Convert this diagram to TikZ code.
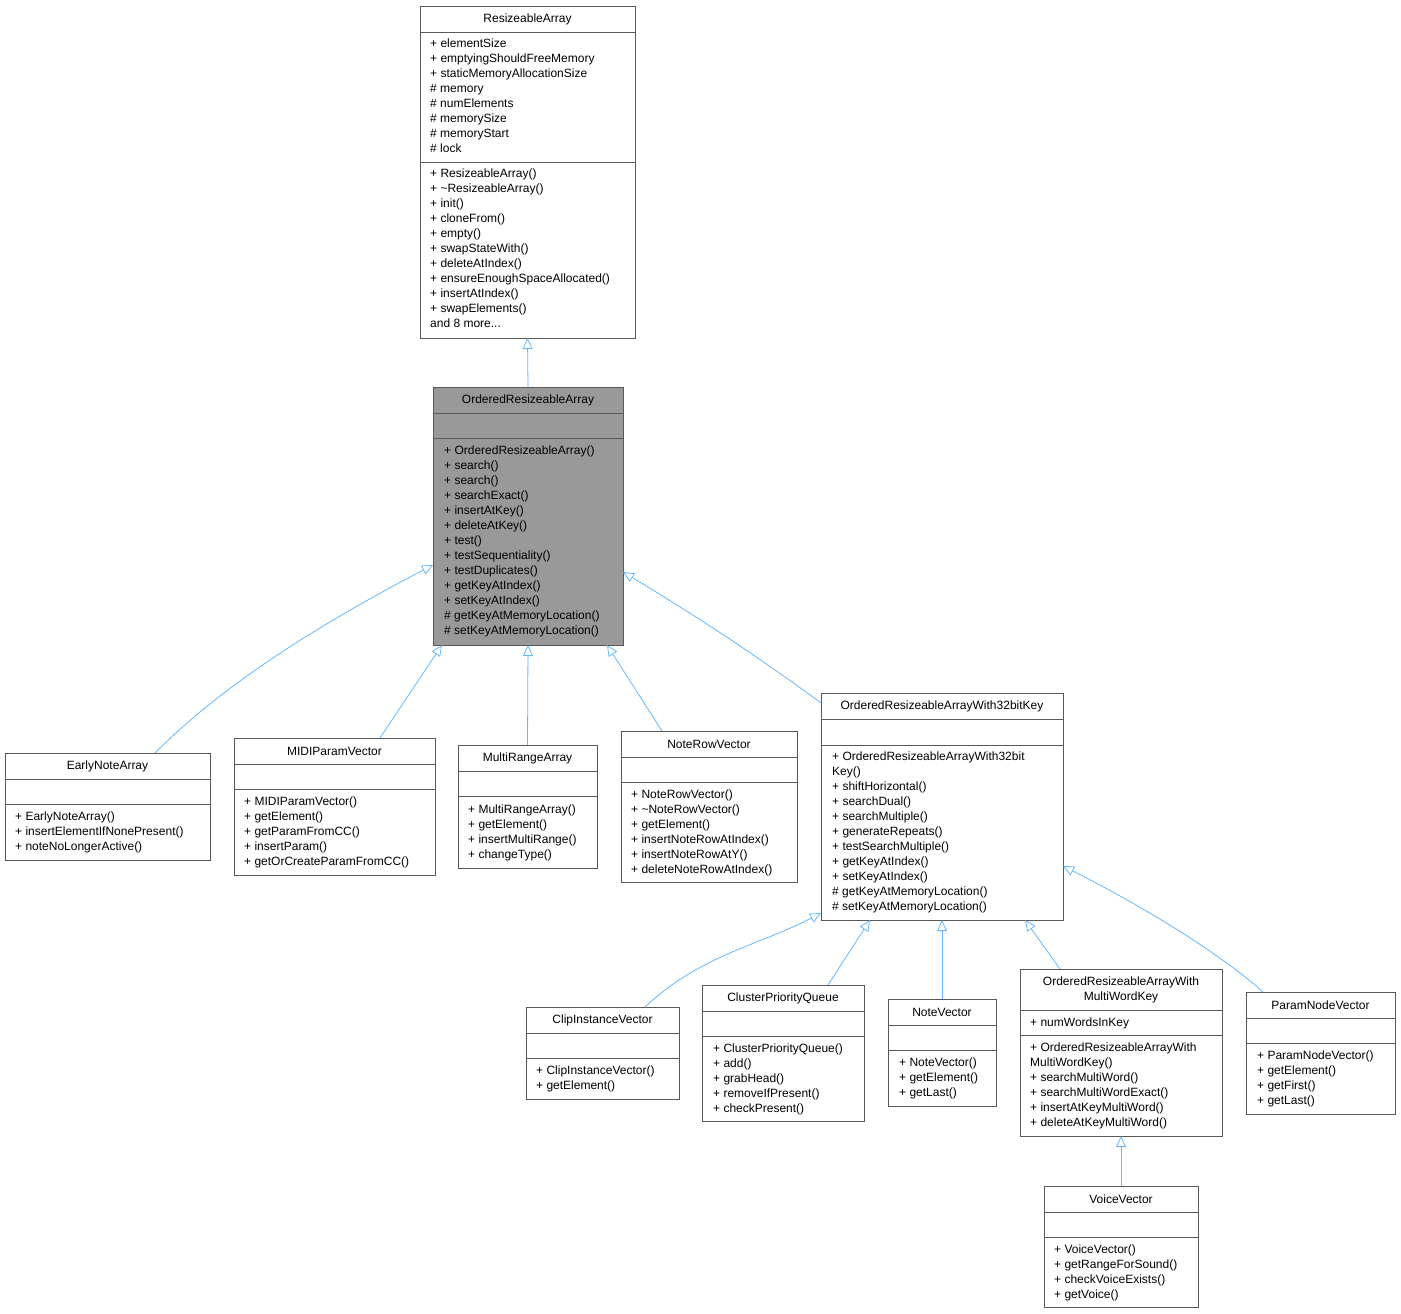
\documentclass[tikz,border=0pt]{standalone}
\usepackage{fontspec}
\setmainfont{Liberation Sans}
\usetikzlibrary{arrows.meta,calc}
\definecolor{edgeblue}{HTML}{63B8FF}
\definecolor{boxgray}{HTML}{999999}
\tikzset{
  box/.style={draw=black!65,line width=0.8pt,inner sep=0,outer sep=0},
  sepline/.style={draw=black!65,line width=0.8pt},
  txt/.style={anchor=north west,inner sep=0,align=left,font=\fontsize{12}{15}\selectfont},
  ttl/.style={inner sep=0,align=center,font=\fontsize{12}{15}\selectfont},
  inh/.style={draw=edgeblue,line width=0.8pt,-{Triangle[open,width=10pt,length=11pt]}},
}
% \cls{name}{x1}{y1}{x2}{y2}{fill}
\newcommand{\cls}[6]{\node[box,fill=#6,minimum width=#4pt-#2pt,minimum height=#5pt-#3pt] (#1) at ({(#2+#4)/2},{(#3+#5)/2}) {};}
\newcommand{\hsep}[3]{\draw[sepline] (#1,#3) -- (#2,#3);}
\begin{document}
\begin{tikzpicture}[x=1pt,y=-1pt]
\useasboundingbox (0,0) rectangle (1401,1314);
% ResizeableArray
\cls{ra}{420}{6}{635}{338}{white}
\hsep{420}{635}{32}\hsep{420}{635}{162}
\node[ttl] (rat) at (527.5,19) {ResizeableArray};
\node[txt] (raa) at (430,39) {+ elementSize\\+ emptyingShouldFreeMemory\\+ staticMemoryAllocationSize\\\# memory\\\# numElements\\\# memorySize\\\# memoryStart\\\# lock};
\node[txt] (ram) at (430,169) {+ ResizeableArray()\\+ \textasciitilde ResizeableArray()\\+ init()\\+ cloneFrom()\\+ empty()\\+ swapStateWith()\\+ deleteAtIndex()\\+ ensureEnoughSpaceAllocated()\\+ insertAtIndex()\\+ swapElements()\\and 8 more...};
% OrderedResizeableArray
\cls{ora}{433}{387}{623}{645}{boxgray}
\hsep{433}{623}{413}\hsep{433}{623}{438}
\node[ttl] (orat) at (528,400) {OrderedResizeableArray};
\node[txt] (oram) at (444,446) {+ OrderedResizeableArray()\\+ search()\\+ search()\\+ searchExact()\\+ insertAtKey()\\+ deleteAtKey()\\+ test()\\+ testSequentiality()\\+ testDuplicates()\\+ getKeyAtIndex()\\+ setKeyAtIndex()\\\# getKeyAtMemoryLocation()\\\# setKeyAtMemoryLocation()};
% EarlyNoteArray
\cls{ena}{5}{753}{210}{860}{white}
\hsep{5}{210}{779}\hsep{5}{210}{804}
\node[ttl] (enat) at (107.5,766) {EarlyNoteArray};
\node[txt] (enam) at (15,812) {+ EarlyNoteArray()\\+ insertElementIfNonePresent()\\+ noteNoLongerActive()};
% MIDIParamVector
\cls{mpv}{234}{738}{435}{875}{white}
\hsep{234}{435}{764}\hsep{234}{435}{789}
\node[ttl] (mpvt) at (334.5,751) {MIDIParamVector};
\node[txt] (mpvm) at (244,797) {+ MIDIParamVector()\\+ getElement()\\+ getParamFromCC()\\+ insertParam()\\+ getOrCreateParamFromCC()};
% MultiRangeArray
\cls{mra}{458}{745}{597}{868}{white}
\hsep{458}{597}{771}\hsep{458}{597}{796}
\node[ttl] (mrat) at (527.5,758) {MultiRangeArray};
\node[txt] (mram) at (468,805) {+ MultiRangeArray()\\+ getElement()\\+ insertMultiRange()\\+ changeType()};
% NoteRowVector
\cls{nrv}{621}{731}{797}{882}{white}
\hsep{621}{797}{757}\hsep{621}{797}{782}
\node[ttl] (nrvt) at (709,744) {NoteRowVector};
\node[txt] (nrvm) at (631,790) {+ NoteRowVector()\\+ \textasciitilde NoteRowVector()\\+ getElement()\\+ insertNoteRowAtIndex()\\+ insertNoteRowAtY()\\+ deleteNoteRowAtIndex()};
% ORA32
\cls{o32}{821}{693}{1063}{920}{white}
\hsep{821}{1063}{719}\hsep{821}{1063}{745}
\node[ttl] (o32t) at (942,706) {OrderedResizeableArrayWith32bitKey};
\node[txt] (o32m) at (832,752) {+ OrderedResizeableArrayWith32bit\\Key()\\+ shiftHorizontal()\\+ searchDual()\\+ searchMultiple()\\+ generateRepeats()\\+ testSearchMultiple()\\+ getKeyAtIndex()\\+ setKeyAtIndex()\\\# getKeyAtMemoryLocation()\\\# setKeyAtMemoryLocation()};
% ClipInstanceVector
\cls{civ}{526}{1007}{679}{1099}{white}
\hsep{526}{679}{1033}\hsep{526}{679}{1058}
\node[ttl] (civt) at (602.5,1020) {ClipInstanceVector};
\node[txt] (civm) at (536,1066) {+ ClipInstanceVector()\\+ getElement()};
% ClusterPriorityQueue
\cls{cpq}{702}{985}{864}{1121}{white}
\hsep{702}{864}{1011}\hsep{702}{864}{1036}
\node[ttl] (cpqt) at (783,998) {ClusterPriorityQueue};
\node[txt] (cpqm) at (713,1044) {+ ClusterPriorityQueue()\\+ add()\\+ grabHead()\\+ removeIfPresent()\\+ checkPresent()};
% NoteVector
\cls{nv}{888}{999}{996}{1106}{white}
\hsep{888}{996}{1025}\hsep{888}{996}{1050}
\node[ttl] (nvt) at (942,1012) {NoteVector};
\node[txt] (nvm) at (899,1058) {+ NoteVector()\\+ getElement()\\+ getLast()};
% ORA MultiWord
\cls{omw}{1020}{969}{1222}{1136}{white}
\hsep{1020}{1222}{1010}\hsep{1020}{1222}{1035}
\node[ttl] (omwt) at (1121,990) {OrderedResizeableArrayWith\\MultiWordKey};
\node[txt] (omwa) at (1030,1018) {+ numWordsInKey};
\node[txt] (omwm) at (1030,1043) {+ OrderedResizeableArrayWith\\MultiWordKey()\\+ searchMultiWord()\\+ searchMultiWordExact()\\+ insertAtKeyMultiWord()\\+ deleteAtKeyMultiWord()};
% ParamNodeVector
\cls{pnv}{1246}{992}{1395}{1114}{white}
\hsep{1246}{1395}{1018}\hsep{1246}{1395}{1043}
\node[ttl] (pnvt) at (1320.5,1005) {ParamNodeVector};
\node[txt] (pnvm) at (1257,1051) {+ ParamNodeVector()\\+ getElement()\\+ getFirst()\\+ getLast()};
% VoiceVector
\cls{vv}{1044}{1186}{1198}{1307}{white}
\hsep{1044}{1198}{1212}\hsep{1044}{1198}{1237}
\node[ttl] (vvt) at (1121,1199) {VoiceVector};
\node[txt] (vvm) at (1054,1245) {+ VoiceVector()\\+ getRangeForSound()\\+ checkVoiceExists()\\+ getVoice()};
% edges
\draw[inh] (ora.north) -- (ra.south);
\draw[inh] ($(ena.north west)+(150,0)$) .. controls (190,718) and (260,655) .. ($(ora.north west)+(0,178)$);
\draw[inh] ($(mpv.north west)+(146,0)$) -- ($(ora.south west)+(9,0)$);
\draw[inh] (mra.north) -- (ora.south);
\draw[inh] ($(nrv.north west)+(41,0)$) -- ($(ora.south west)+(174,0)$);
\draw[inh] ($(o32.north west)+(0,10)$) .. controls (790,680) and (720,630) .. ($(ora.north east)+(0,185)$);
\draw[inh] ($(civ.north west)+(119,0)$) .. controls (700,955) and (760,945) .. ($(o32.south west)+(0,-7)$);
\draw[inh] ($(cpq.north west)+(126,0)$) -- ($(o32.south west)+(49,0)$);
\draw[inh] (nv.north) -- (o32.south);
\draw[inh] ($(omw.north west)+(40,0)$) -- ($(o32.south west)+(204,0)$);
\draw[inh] ($(pnv.north west)+(17,0)$) .. controls (1230,962) and (1160,915) .. ($(o32.north east)+(0,173)$);
\draw[inh] (vv.north) -- (omw.south);
\end{tikzpicture}
\end{document}
